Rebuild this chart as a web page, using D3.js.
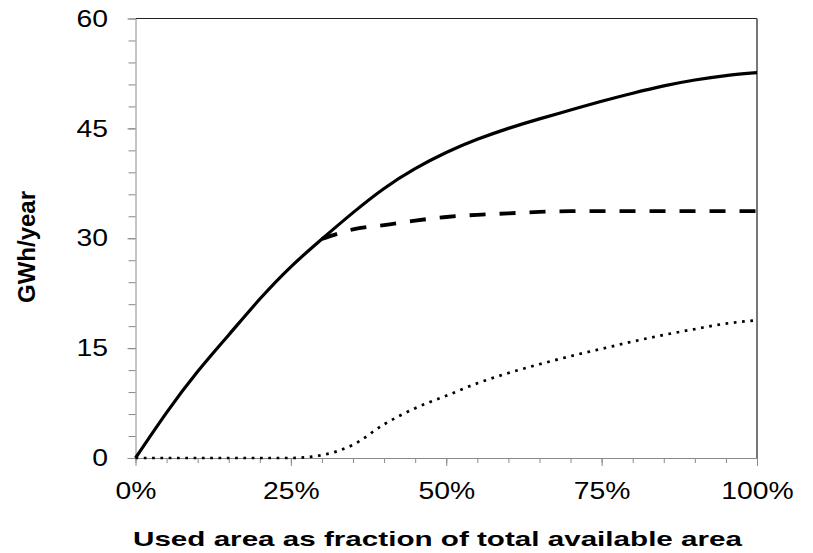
<!DOCTYPE html>
<html>
<head>
<meta charset="utf-8">
<script src="https://cdn.jsdelivr.net/npm/d3@7"></script>
<style>
  body { margin: 0; background: #fff; }
  text { font-family: "Liberation Sans", Arial, sans-serif; fill: #000; }
</style>
</head>
<body>
<div id="chart"></div>
<script>
// --------------- Data --------------- //

// x = used area (% of total available area)
const usedArea = [0, 5, 10, 15, 20, 25, 30, 35, 40, 45, 50, 55, 60, 65, 70, 75, 80, 85, 90, 95, 100];

// GWh/year, solid line
const solidSeries = [0, 6.2, 11.8, 16.8, 21.7, 26.1, 29.9, 33.5, 36.8, 39.5, 41.7, 43.5, 45.0, 46.3, 47.5, 48.7, 49.8, 50.8, 51.6, 52.2, 52.6];
// dashed line, branches off the solid one at 30 % (hidden under it before)
const dashedSeries = [null, null, null, null, null, null, 29.9, 31.2, 31.8, 32.4, 32.9, 33.2, 33.4, 33.6, 33.7, 33.7, 33.7, 33.7, 33.7, 33.7, 33.7];
// dotted line
const dottedSeries = [0, 0, 0, 0, 0, 0, 0.4, 1.8, 4.6, 6.8, 8.5, 10.2, 11.6, 12.8, 13.9, 14.9, 15.9, 16.8, 17.6, 18.35, 18.8];

const yTicks = [0, 15, 30, 45, 60];
const xTicks = [0, 25, 50, 75, 100];

// --------------- Basic Setup --------------- //

const width = 813,
    height = 553,
    margin = {top: 18.5, right: 56, bottom: 95, left: 135.5};

const svg = d3.select("#chart")
    .append("svg")
    .attr("width", width)
    .attr("height", height);

const x = d3.scaleLinear()
    .domain([0, 100])
    .range([margin.left, width - margin.right]);

const y = d3.scaleLinear()
    .domain([0, 60])
    .range([height - margin.bottom, margin.top]);

const stretch = 1.18;

// --------------- Frame & Axes --------------- //

// top and right border of the plot area
svg.append("line")
    .attr("x1", x(0)).attr("x2", x(100))
    .attr("y1", y(60)).attr("y2", y(60))
    .attr("stroke", "#222").attr("stroke-width", 1);
svg.append("line")
    .attr("x1", x(100)).attr("x2", x(100))
    .attr("y1", y(60)).attr("y2", y(0))
    .attr("stroke", "#555").attr("stroke-width", 1.6);

// minor ticks
svg.append("g")
    .attr("transform", `translate(${x(0)},0)`)
    .call(d3.axisLeft(y).tickValues(d3.range(0, 61, 3)).tickSize(7).tickFormat(""))
    .call(g => g.select(".domain").remove());
svg.append("g")
    .attr("transform", `translate(0,${y(0)})`)
    .call(d3.axisBottom(x).tickValues(d3.range(0, 101, 5)).tickSize(5).tickFormat(""))
    .call(g => g.select(".domain").remove());

// major ticks + labels
const yAxis = svg.append("g")
    .attr("transform", `translate(${x(0)},0)`)
    .call(d3.axisLeft(y).tickValues(yTicks).tickSize(8).tickPadding(15.3).tickSizeOuter(0));
const xAxis = svg.append("g")
    .attr("transform", `translate(0,${y(0)})`)
    .call(d3.axisBottom(x).tickValues(xTicks).tickSize(8).tickPadding(16).tickSizeOuter(0)
        .tickFormat(d => d + "%"));

svg.selectAll(".tick line").attr("stroke", "#8a8a8a");
svg.selectAll(".domain").attr("stroke", "#8a8a8a");

[yAxis, xAxis].forEach(g => g.selectAll("text")
    .attr("font-size", 24)
    .attr("font-family", "Liberation Sans, Arial, sans-serif")
    .attr("fill", "#111")
    .attr("transform", `scale(${stretch},1)`));

// axis titles
svg.append("text")
    .attr("x", 133)
    .attr("y", 546)
    .attr("font-size", 21)
    .attr("font-weight", "bold")
    .attr("textLength", 609)
    .attr("lengthAdjust", "spacingAndGlyphs")
    .text("Used area as fraction of total available area");

svg.append("text")
    .attr("transform", "translate(35,247) rotate(-90)")
    .attr("text-anchor", "middle")
    .attr("font-size", 24)
    .attr("font-weight", "bold")
    .text("GWh/year");

// --------------- Lines --------------- //

const line = (series, curve) => d3.line()
    .defined(d => d != null)
    .x((d, i) => x(usedArea[i]))
    .y(d => y(d))
    .curve(curve)(series);

svg.append("path")
    .attr("d", line(dashedSeries, d3.curveNatural))
    .attr("fill", "none")
    .attr("stroke", "#000")
    .attr("stroke-width", 3.8)
    .attr("stroke-dasharray", "16,14");

svg.append("path")
    .attr("d", line(dottedSeries, d3.curveMonotoneX))
    .attr("fill", "none")
    .attr("stroke", "#000")
    .attr("stroke-width", 2.7)
    .attr("stroke-dasharray", "2.7,5.6");

svg.append("path")
    .attr("d", line(solidSeries, d3.curveNatural))
    .attr("fill", "none")
    .attr("stroke", "#000")
    .attr("stroke-width", 3.2);
</script>
</body>
</html>
